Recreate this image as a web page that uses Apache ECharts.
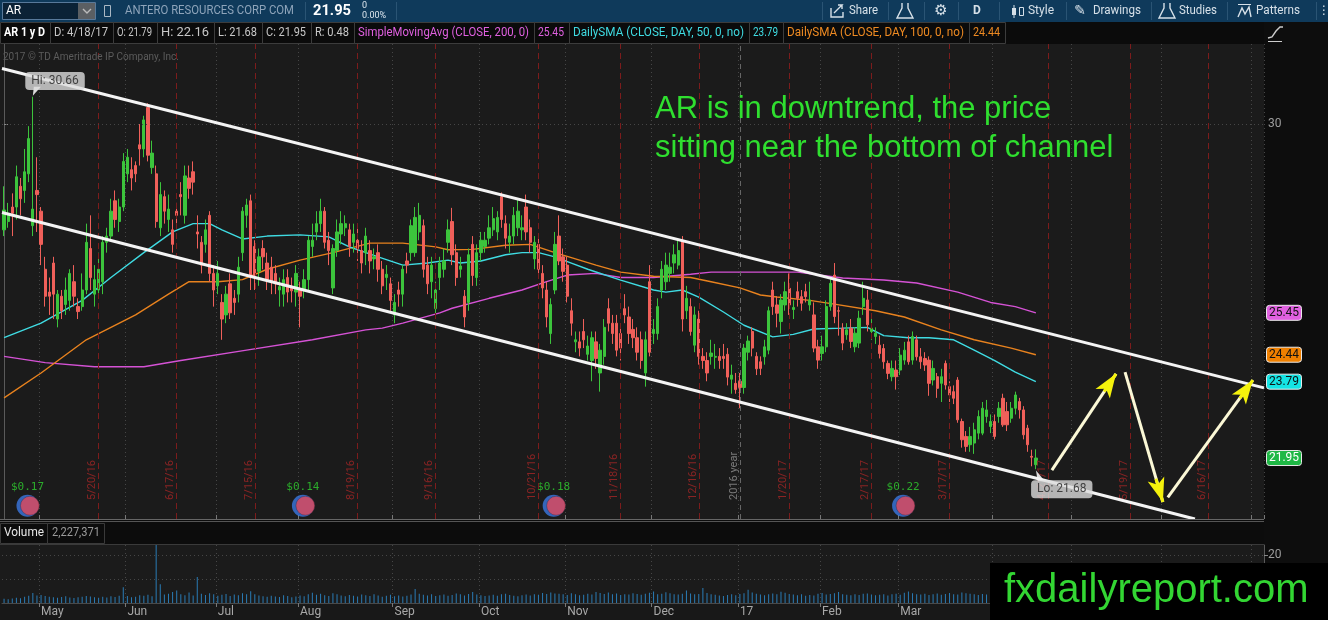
<!DOCTYPE html>
<html>
<head>
<meta charset="utf-8">
<script src="https://cdn.jsdelivr.net/npm/echarts@6/dist/echarts.min.js"></script>
<style>
  html, body { margin: 0; padding: 0; background: #1b1b1b; }
  #main { width: 1328px; height: 620px; }
</style>
</head>
<body>
<div id="main"></div>
<script>
// AR 1 year daily
var monthNames = ['Jan','Feb','Mar','Apr','May','Jun','Jul','Aug','Sep','Oct','Nov','Dec'];
var holidays = ['2016-05-30','2016-07-04','2016-09-05','2016-11-24','2016-12-26','2017-01-02',
                '2017-01-16','2017-02-20','2017-04-14','2017-05-29','2017-07-04'];
var slotCount = 307; // trading days incl. the empty right margin

// [open, close, low, high]
var candles = [
  [27.45,27.93,27.3,28.5],[27.65,27.85,27.5,28.1],[28.0,27.85,27.3,28.33],[28.0,28.73,27.7,29.0],
  [28.5,28.2,27.8,28.7],[28.4,28.85,28.1,29.4],[28.8,29.65,28.6,29.95],[27.55,27.95,27.3,30.66],
  [28.4,28.3,27.4,29.2],[27.9,27.1,26.6,28.0],[26.5,25.85,25.6,26.8],[25.95,25.85,25.4,26.3],
  [26.65,25.9,25.3,26.8],[25.3,25.9,25.1,26.0],[25.85,25.5,25.3,26.0],[25.65,26.0,25.4,26.3],
  [25.75,26.4,25.5,26.5],[26.2,25.85,25.6,26.6],[25.6,25.48,25.3,25.8],[25.6,26.0,25.5,26.4],
  [26.0,27.15,25.9,27.6],[27.0,26.3,26.0,27.8],[25.9,26.25,25.6,26.6],[26.0,26.5,25.8,26.9],
  [26.2,27.15,25.9,27.3],[27.15,27.3,26.9,27.5],[27.3,27.9,27.2,28.2],[28.15,27.7,27.5,28.4],
  [27.65,28.0,27.4,28.2],[28.0,29.1,27.9,29.3],[28.8,29.2,28.6,29.4],[28.9,28.7,28.4,29.2],
  [29.0,28.8,28.6,29.1],[29.5,29.4,29.0,30.0],[29.4,30.1,29.2,30.2],[30.4,29.25,29.1,30.5],
  [28.95,29.3,28.8,29.6],[28.8,27.65,27.5,29.0],[27.5,28.3,27.3,28.6],[28.25,27.9,27.6,28.4],
  [27.7,27.95,27.4,28.3],[27.45,27.1,26.9,27.7],[27.9,27.8,27.5,28.1],[28.3,28.25,27.8,28.6],
  [27.8,28.75,27.6,29.0],[28.7,28.45,28.2,29.0],[28.85,28.6,28.3,29.1],[27.4,27.35,27.0,27.8],
  [27.15,26.6,26.4,27.3],[27.1,27.45,26.9,27.7],[27.8,26.4,26.2,27.9],[26.4,26.0,25.6,26.6],
  [26.1,26.4,25.9,26.7],[25.7,25.3,24.8,25.9],[25.4,25.9,25.2,26.1],[26.15,25.45,25.3,26.4],
  [25.8,25.7,25.4,26.0],[25.9,26.55,25.7,26.8],[26.9,27.9,26.7,28.0],[27.8,28.05,27.5,28.2],
  [28.15,26.3,26.0,28.3],[27.05,26.3,26.0,27.2],[26.45,26.8,26.1,27.0],[27.0,26.8,26.5,27.2],
  [26.65,26.25,26.0,26.9],[26.55,26.2,25.9,26.8],[26.4,26.15,25.9,26.6],[26.0,26.08,25.6,26.3],
  [25.9,26.25,25.6,26.5],[26.3,25.95,25.7,26.5],[26.05,25.98,25.7,26.3],[25.95,26.4,25.6,26.6],
  [26.0,25.85,25.1,26.2],[26.0,26.25,25.8,26.5],[26.25,27.2,26.0,27.3],[27.05,27.2,26.8,27.6],
  [27.4,27.6,27.2,27.9],[27.6,27.9,27.4,28.2],[27.9,27.15,27.0,28.0],[27.2,26.95,26.6,27.4],
  [26.05,27.0,25.9,27.1],[26.95,27.4,26.8,27.7],[27.35,27.6,27.1,27.9],[27.5,27.6,27.3,27.8],
  [27.45,27.05,26.8,27.6],[27.15,27.35,26.9,27.6],[27.2,27.0,26.7,27.5],[26.95,26.65,26.4,27.2],
  [26.9,27.3,26.6,27.5],[26.95,26.7,26.4,27.2],[26.75,26.8,26.5,27.0],[26.9,26.5,26.2,27.1],
  [26.5,26.1,25.9,26.7],[26.3,26.38,26.0,26.6],[26.15,25.75,25.5,26.3],[25.4,25.7,25.2,25.9],
  [26.0,25.9,25.6,26.2],[25.9,26.5,25.6,26.6],[26.7,26.6,26.4,26.9],[26.9,27.55,26.7,27.7],
  [26.9,27.75,26.8,28.0],[27.4,27.8,27.2,28.1],[27.55,26.5,26.3,27.7],[26.6,26.15,25.9,26.8],
  [26.2,26.6,25.8,26.8],[25.55,26.0,25.4,26.2],[26.3,26.65,26.0,26.8],[26.5,26.7,26.3,27.0],
  [27.15,27.45,26.9,27.7],[27.65,26.85,26.6,27.98],[26.9,26.3,26.1,27.1],[26.5,26.58,26.3,26.8],
  [25.85,25.35,25.1,26.0],[25.7,26.85,25.5,27.0],[27.1,26.35,26.1,27.3],[26.3,26.9,26.1,27.1],
  [26.9,27.2,26.7,27.4],[27.05,27.2,26.9,27.4],[27.25,27.5,27.1,27.8],[27.45,27.72,27.3,28.0],
  [27.4,27.75,27.2,27.9],[28.25,27.7,27.5,28.35],[27.6,27.25,27.0,27.8],[27.15,27.3,26.9,27.6],
  [27.3,27.8,27.1,28.0],[27.5,27.9,27.3,28.2],[27.45,27.5,27.2,27.8],[28.0,27.4,27.2,28.3],
  [27.5,27.15,26.9,27.7],[26.75,27.15,26.5,27.3],[27.1,26.5,26.3,27.3],[26.4,26.05,25.8,26.6],
  [26.0,25.35,25.1,26.2],[24.95,25.65,24.7,25.8],[26.0,27.1,25.9,27.4],[27.3,26.7,26.6,27.8],
  [26.8,26.45,26.2,27.0],[26.6,25.85,25.7,26.8],[25.5,25.2,24.9,25.8],[24.75,24.8,24.5,25.0],
  [24.75,24.6,24.4,25.0],[25.0,24.8,24.6,25.3],[24.45,24.65,24.3,24.9],[24.3,24.85,23.8,25.0],
  [24.75,24.35,24.1,25.0],[24.0,24.55,23.55,24.7],[24.4,25.1,24.2,25.3],[25.55,25.2,25.0,25.8],
  [25.2,24.95,24.7,25.4],[25.2,24.55,24.4,25.4],[24.95,24.6,24.3,25.1],[25.55,25.4,25.2,25.9],
  [25.35,24.95,24.7,25.6],[25.05,24.85,24.6,25.3],[24.85,24.5,24.3,25.1],[24.8,24.3,24.1,25.0],
  [24.0,24.8,23.67,25.0],[26.2,24.5,24.4,26.6],[24.95,25.05,24.7,25.3],[24.95,25.6,24.8,25.8],
  [26.0,26.5,25.8,26.7],[26.2,26.6,26.0,26.9],[26.4,26.55,26.2,26.9],[26.65,26.85,26.4,27.1],
  [26.6,26.95,26.5,27.2],[27.2,25.3,25.0,27.3],[25.5,25.8,25.3,26.1],[25.6,25.0,24.9,25.8],
  [24.67,25.4,24.5,25.6],[25.3,24.4,24.2,25.5],[24.4,24.3,24.1,24.6],[24.3,24.0,23.8,24.5],
  [24.4,24.48,24.2,24.8],[24.38,24.4,24.1,24.7],[24.4,24.3,24.1,24.6],[24.4,24.35,24.1,24.7],
  [24.45,23.9,23.7,24.6],[23.85,23.95,23.5,24.2],[23.75,23.6,23.5,24.0],[23.8,23.65,23.15,24.0],
  [23.65,24.6,23.5,24.7],[24.5,24.77,24.3,24.9],[25.0,24.6,24.4,25.1],[24.4,24.1,23.95,24.5],
  [24.27,24.11,23.95,24.4],[24.39,24.63,24.2,24.8],[24.55,25.5,24.45,25.6],[26.0,25.6,25.4,26.2],
  [25.64,25.44,25.1,25.85],[25.24,25.76,24.95,25.9],[25.64,25.96,25.5,26.2],[26.04,25.64,25.4,26.4],
  [25.53,25.58,25.3,25.75],[25.96,25.8,25.6,26.2],[25.84,25.68,25.5,26.0],[25.96,25.84,25.7,26.15],
  [25.64,25.76,25.5,26.2],[25.4,24.6,24.5,25.7],[24.63,24.31,24.1,24.8],[24.47,24.63,24.3,24.9],
  [24.63,25.6,24.5,25.75],[25.6,26.16,25.5,26.3],[26.36,25.36,25.2,26.65],[25.5,25.49,24.9,25.6],
  [25.08,24.72,24.55,25.2],[24.92,25.04,24.8,25.2],[25.08,24.76,24.6,25.3],[24.63,24.96,24.5,25.1],
  [24.72,25.32,24.6,25.5],[25.6,25.8,25.4,26.2],[25.76,25.16,25.0,26.0],[25.0,25.08,24.8,25.3],
  [24.88,24.96,24.7,25.1],[24.67,24.47,24.35,24.9],[24.59,24.27,24.1,24.7],[24.23,23.99,23.85,24.3],
  [23.91,24.11,23.8,24.3],[24.07,23.91,23.6,24.3],[24.07,24.43,23.95,24.6],[24.31,24.55,24.2,24.75],
  [24.75,24.27,24.2,24.9],[24.31,24.88,24.2,25.0],[24.8,24.39,24.3,24.9],[24.39,24.27,24.1,24.6],
  [24.35,24.19,24.05,24.5],[24.31,23.75,23.45,24.4],[23.83,24.11,23.7,24.3],[23.91,23.63,23.4,24.0],
  [23.75,23.91,23.3,24.1],[24.23,23.71,23.6,24.3],[23.67,23.47,23.3,23.8],[23.55,23.39,23.25,23.7],
  [23.83,22.87,22.8,23.9],[22.83,22.39,22.2,22.9],[22.47,22.23,22.1,22.6],[22.27,22.47,22.1,22.7],
  [22.31,22.63,22.05,22.8],[22.55,22.95,22.4,23.1],[22.55,23.15,22.5,23.3],[22.95,23.11,22.8,23.35],
  [22.71,22.83,22.55,23.0],[22.83,22.47,22.4,23.0],[22.95,23.15,22.8,23.3],[23.39,22.75,22.7,23.5],
  [23.07,22.75,22.6,23.3],[22.91,23.15,22.8,23.3],[23.15,23.47,23.0,23.55],[23.31,23.11,22.9,23.4],
  [23.11,22.51,22.4,23.2],[22.67,22.27,22.1,22.75],[21.99,21.97,21.75,22.15],[21.79,21.95,21.68,22.16]
];

// volume, millions of shares
var volume = [
  1.8,1.6,1.9,2.2,2.0,2.6,3.0,4.2,3.1,
  3.3,2.9,2.6,2.4,2.2,2.5,2.8,2.3,2.1,2.4,2.6,2.9,
  2.7,2.4,2.2,2.6,2.3,2.8,2.5,3.0,6.6,2.9,2.4,2.6,3.2,3.0,3.4,2.8,
  24.2,7.8,3.5,3.9,4.6,5.2,3.6,3.2,4.4,3.1,10.8,3.9,3.3,4.1,
  3.6,3.0,3.4,3.8,2.9,3.5,3.2,4.1,3.7,4.9,3.6,3.1,2.8,2.6,3.0,2.7,2.5,3.2,2.9,2.4,
  2.7,3.1,2.8,3.6,4.3,3.4,3.9,3.2,2.9,4.1,3.6,3.1,2.8,3.3,3.0,2.7,3.5,3.2,2.9,3.6,
  3.1,2.6,3.0,3.4,2.8,3.1,2.7,3.0,3.5,5.8,3.9,
  3.4,3.1,3.6,2.9,3.2,3.5,3.0,3.3,4.0,3.6,3.1,3.8,4.6,3.5,3.2,2.9,3.1,3.4,3.0,3.7,
  3.9,3.3,3.0,2.8,3.2,3.5,3.1,3.6,3.4,4.2,
  3.8,4.4,4.0,3.9,3.6,3.3,4.1,3.7,3.2,3.4,3.9,3.5,4.6,4.2,3.8,4.4,3.6,4.0,3.3,3.7,
  3.5,4.1,3.8,3.4,3.9,4.3,4.8,3.6,3.9,4.5,
  4.1,3.7,3.5,3.9,5.2,4.0,3.6,3.8,6.3,4.2,3.7,3.4,3.1,2.9,3.3,3.6,3.2,3.8,4.1,5.5,
  4.4,3.9,3.5,3.2,3.7,4.0,3.6,4.7,4.3,3.8,
  3.5,3.2,3.6,3.0,3.3,3.1,3.9,4.2,3.5,3.8,4.1,4.6,3.7,3.4,3.2,3.6,3.3,3.9,4.0,3.5,
  3.2,3.4,3.7,3.1,3.6,3.9,3.4,4.3,4.8,4.1,
  3.7,3.5,3.9,3.3,3.6,4.0,3.4,3.8,4.2,3.7,3.5,4.4,4.1,3.9,3.6,3.3,3.8,3.5,3.2,3.6,
  3.4,3.9,3.7,3.3,3.5,3.8,4.0,3.6,4.5,2.2
];

// moving averages sampled along the drawn curves: [day index, value]
var sma50 = [[0,24.85],[9,25.2],[19,25.75],[26,26.3],[34,26.9],[41,27.4],[46,27.6],[50,27.6],[53,27.45],
  [58,27.23],[64,27.3],[72,27.33],[79,27.28],[84,27.04],[91,26.8],[97,26.6],[103,26.65],[108,26.72],
  [111,26.65],[116,26.7],[122,26.85],[126,26.9],[130,26.9],[134,26.8],[138,26.65],[142,26.5],[150,26.24],
  [158,26.0],[161,25.95],[165,26.0],[169,25.83],[175,25.47],[180,25.15],[187,24.87],[192,24.93],[197,25.06],
  [204,25.08],[210,25.1],[214,24.9],[220,24.85],[225,24.85],[231,24.8],[236,24.55],[241,24.3],[246,24.02],[251,23.79]];
var sma100 = [[0,23.4],[9,24.0],[20,24.8],[32,25.4],[40,25.9],[45,26.2],[52,26.2],[58,26.25],[64,26.5],
  [72,26.72],[80,26.9],[89,27.13],[97,27.13],[105,27.04],[108,26.97],[114,26.98],[122,27.08],[128,27.1],
  [134,26.9],[138,26.78],[144,26.6],[150,26.43],[158,26.33],[167,26.3],[172,26.2],[179,26.05],[184,25.88],
  [188,25.83],[196,25.75],[202,25.66],[212,25.5],[219,25.35],[228,25.04],[236,24.8],[245,24.6],[251,24.44]];
var sma200 = [[0,24.4],[10,24.25],[22,24.15],[34,24.15],[43,24.3],[59,24.55],[75,24.8],[88,25.04],[92,25.08],
  [97,25.2],[106,25.45],[109,25.56],[118,25.8],[126,26.0],[132,26.2],[137,26.36],[144,26.4],[150,26.3],
  [158,26.3],[167,26.38],[172,26.43],[184,26.43],[193,26.43],[204,26.29],[214,26.24],[222,26.17],
  [232,25.95],[240,25.7],[246,25.6],[251,25.45]];

var lastValues = [25.45, 24.44, 23.79, 21.95];
var lastColors = ['#e060e0', '#f08000', '#14e4e4', '#1fb845'];

var expDates = ['2016-05-20','2016-06-17','2016-07-15','2016-08-19','2016-09-16','2016-10-21','2016-11-18',
                '2016-12-16','2017-01-20','2017-02-17','2017-03-17','2017-04-21','2017-05-19','2017-06-16'];
var divIndex = [6, 73, 134, 219];
var divAmounts = ['$0.17', '$0.14', '$0.18', '$0.22'];

var FONT = 'Roboto, "DejaVu Sans", sans-serif';

function buildDates() {
  var out = [];
  var d = new Date(Date.UTC(2016, 3, 19));
  while (out.length < slotCount) {
    var wd = d.getUTCDay();
    var s = d.toISOString().slice(0, 10);
    if (wd !== 0 && wd !== 6 && holidays.indexOf(s) < 0) out.push(s);
    d.setUTCDate(d.getUTCDate() + 1);
  }
  return out;
}
var dates = buildDates();

function isMonthStart(i) {
  return i > 0 && dates[i].slice(5, 7) !== dates[i - 1].slice(5, 7);
}
function monthLabel(v) {
  var m = +v.slice(5, 7);
  return m === 1 ? v.slice(2, 4) : monthNames[m - 1];
}
function expLabel(v) {
  return (+v.slice(5, 7)) + '/' + (+v.slice(8, 10)) + '/' + v.slice(2, 4);
}

var chart = echarts.init(document.getElementById('main'));

var dotted = { color: '#464646', type: [1, 3], width: 1 };
var divLevel = 20.8; // price level the dividend badges sit on

var option = {
  backgroundColor: '#1b1b1b',
  animation: false,
  textStyle: { fontFamily: FONT },
  grid: [
    { left: 2, right: 64, top: 44, height: 475 },
    { left: 2, right: 64, top: 545, height: 58 }
  ],
  xAxis: [
    {
      type: 'category', gridIndex: 0, data: dates, boundaryGap: true,
      axisLine: { show: false },
      axisTick: { show: true, inside: true, length: 4, interval: isMonthStart, lineStyle: { color: '#777' } },
      axisLabel: { show: false },
      splitLine: { show: true, interval: isMonthStart, lineStyle: dotted }
    },
    {
      type: 'category', gridIndex: 1, data: dates, boundaryGap: true,
      axisLine: { show: true, lineStyle: { color: '#4a4a4a' } },
      axisTick: { show: true, length: 4, interval: isMonthStart, lineStyle: { color: '#777' } },
      axisLabel: { interval: isMonthStart, formatter: monthLabel, align: 'left', color: '#a8a8a8',
                   fontSize: 12, margin: 3, fontFamily: FONT },
      splitLine: { show: true, interval: isMonthStart, lineStyle: dotted }
    },
    { type: 'value', gridIndex: 0, min: -0.5, max: slotCount - 0.5, show: false }
  ],
  yAxis: [
    {
      type: 'value', gridIndex: 0, position: 'right', min: 20.48, max: 31.93,
      axisLine: { show: true, lineStyle: { color: '#5a5a5a' } },
      axisTick: { show: true, customValues: [30], length: 4, lineStyle: { color: '#888' } },
      axisLabel: { customValues: [30], formatter: function (v) { return v === 30 ? '30' : ''; },
                   color: '#9c9c9c', fontSize: 12, margin: 4 },
      splitLine: { show: false }
    },
    {
      type: 'value', gridIndex: 1, position: 'right', min: 0, max: 24.2,
      axisLine: { show: true, lineStyle: { color: '#5a5a5a' } },
      axisTick: { show: true, customValues: [20], length: 4, lineStyle: { color: '#888' } },
      axisLabel: { customValues: [20], formatter: function (v) { return v === 20 ? '20' : ''; },
                   color: '#9c9c9c', fontSize: 12, margin: 4 },
      splitLine: { show: false }
    }
  ],
  series: [
    {
      type: 'candlestick', xAxisIndex: 0, yAxisIndex: 0, data: candles, barWidth: 2.8,
      itemStyle: { color: '#3cc43c', color0: '#f0605a', borderColor: '#3cc43c', borderColor0: '#f0605a', borderWidth: 1 },
      markLine: {
        silent: true, symbol: ['none', 'none'], label: { show: false },
        data: expDates.map(function (d) {
          return { xAxis: d, lineStyle: { color: '#7c1c1c', type: [6, 4], width: 1 } };
        }).concat([
          { xAxis: '2017-01-03', lineStyle: { color: '#666', type: [5, 4], width: 1 } },
          { yAxis: 30, lineStyle: dotted }
        ])
      },
      z: 3
    },
    {
      type: 'line', name: 'SMA200', xAxisIndex: 2, yAxisIndex: 0, data: sma200, showSymbol: false,
      lineStyle: { color: '#d552d5', width: 1.4 }, z: 2,
      markLine: {
        silent: true, symbol: ['none', 'none'], label: { show: false },
        data: [
          [{ coord: [-0.5, 31.34] }, { coord: [306.5, 23.64] }],
          [{ coord: [-0.5, 27.87] }, { coord: [289.7, 20.48] }],
          [{ coord: [254.9, 21.66], lineStyle: { color: '#fbf8d6', width: 3 } }, { coord: [270.5, 23.98] }],
          [{ coord: [272.7, 24.02], lineStyle: { color: '#fbf8d6', width: 3 } }, { coord: [281.9, 20.89] }],
          [{ coord: [283.1, 21.0], lineStyle: { color: '#fbf8d6', width: 3 } }, { coord: [303.8, 23.83] }],
          [{ coord: [267.6, 23.55], lineStyle: { color: '#f4f20c', width: 3 } },
           { coord: [270.5, 23.98], symbol: 'arrow', symbolSize: [13, 24] }],
          [{ coord: [280.2, 21.45], lineStyle: { color: '#f4f20c', width: 3 } },
           { coord: [281.9, 20.89], symbol: 'arrow', symbolSize: [13, 24] }],
          [{ coord: [300.6, 23.39], lineStyle: { color: '#f4f20c', width: 3 } },
           { coord: [303.8, 23.83], symbol: 'arrow', symbolSize: [13, 24] }]
        ],
        lineStyle: { color: '#f4f4f4', width: 3, type: 'solid' }
      }
    },
    {
      type: 'line', name: 'SMA100', xAxisIndex: 2, yAxisIndex: 0, data: sma100, showSymbol: false,
      lineStyle: { color: '#e8821e', width: 1.4 }, z: 2
    },
    {
      type: 'line', name: 'SMA50', xAxisIndex: 2, yAxisIndex: 0, data: sma50, showSymbol: false,
      lineStyle: { color: '#3fdbe2', width: 1.4 }, z: 2
    },
    {
      // dividend badge: blue back disc
      type: 'scatter', xAxisIndex: 2, yAxisIndex: 0,
      data: divIndex.map(function (i) { return [i - 0.3, divLevel]; }),
      symbol: 'circle', symbolSize: 22, itemStyle: { color: '#3b78e2' },
      label: {
        show: true, position: 'top', distance: 2, color: '#2fcf2f', fontSize: 11,
        fontFamily: '"DejaVu Sans Mono", monospace',
        formatter: function (p) { return divAmounts[p.dataIndex]; }
      },
      z: 4
    },
    {
      // dividend badge: red front disc
      type: 'scatter', xAxisIndex: 2, yAxisIndex: 0,
      data: divIndex.map(function (i) { return [i + 0.3, divLevel]; }),
      symbol: 'circle', symbolSize: 19,
      itemStyle: { color: '#e4485a', borderColor: '#2a2a4a', borderWidth: 0.5 },
      z: 5
    },
    {
      type: 'scatter', xAxisIndex: 2, yAxisIndex: 0,
      data: [[12.4, 31.04, 'Hi: 30.66'], [257.3, 21.2, 'Lo: 21.68']],
      symbolSize: 2, itemStyle: { color: 'rgba(0,0,0,0)' },
      label: {
        show: true, position: 'inside', color: '#222', fontSize: 12,
        backgroundColor: '#dcdcdc', borderRadius: 4, padding: [3, 6],
        formatter: function (p) { return p.value[2]; }
      },
      z: 8
    },
    {
      type: 'bar', xAxisIndex: 1, yAxisIndex: 1, data: volume, barWidth: 1,
      itemStyle: { color: '#2a7cb6' },
      markLine: {
        silent: true, symbol: ['none', 'none'], label: { show: false },
        data: [{ yAxis: 10 }, { yAxis: 20 }], lineStyle: dotted
      }
    }
  ]
};
chart.setOption(option);

var measureCtx = document.createElement('canvas').getContext('2d');

function rect(x, y, w, h, fill, stroke, z, r) {
  return { type: 'rect', silent: true, z: z, shape: { x: x, y: y, width: w, height: h, r: r || 0 },
           style: { fill: fill, stroke: stroke || null, lineWidth: 1 } };
}
function txt(x, y, s, color, font, z, align) {
  return { type: 'text', silent: true, z: z, x: x, y: y,
           style: { text: s, fill: color, font: font, textAlign: align || 'left',
                    textVerticalAlign: 'middle', verticalAlign: 'middle' } };
}
// left-aligned text squeezed to the width it takes in the screenshot
function fitTxt(x, y, s, color, font, z, width) {
  measureCtx.font = font;
  var w = measureCtx.measureText(s).width;
  var t = txt(x, y, s, color, font, z);
  t.scaleX = width / w;
  return t;
}
function line(x1, y1, x2, y2, color, z) {
  return { type: 'line', silent: true, z: z, shape: { x1: x1, y1: y1, x2: x2, y2: y2 },
           style: { stroke: color, lineWidth: 1 } };
}
function poly(points, color, z) {
  return { type: 'polyline', silent: true, z: z, shape: { points: points },
           style: { stroke: color, lineWidth: 1.4, fill: null } };
}

function buildGraphics() {
  var g = [];
  var f12 = '12px ' + FONT;
  // background panels
  g.push(rect(1264, 22, 64, 598, '#0d0d0d', null, -1));
  g.push(rect(0, 603, 1264, 17, '#181818', null, -1));
  g.push(rect(0, 519, 1264, 26, '#0c0c0c', null, 5));
  g.push(line(0, 519.5, 1264, 519.5, '#666', 6));
  g.push(line(0, 521.5, 1264, 521.5, '#555', 6));
  g.push(line(0, 544.5, 1264, 544.5, '#3a3a3a', 6));
  g.push(rect(0.5, 523.5, 47, 20, null, '#3a3a3a', 6));
  g.push(fitTxt(4, 533, 'Volume', '#e8e8e8', f12, 7, 40));
  g.push(rect(47.5, 523.5, 57, 20, null, '#3a3a3a', 6));
  g.push(fitTxt(52, 533, '2,227,371', '#9a9a9a', f12, 7, 48));

  // toolbar
  g.push(rect(0, 0, 1328, 22, '#0f3a5b', null, 10));
  g.push(rect(2.5, 2.5, 93, 17, '#0b2236', '#58799a', 11));
  g.push(rect(78, 3, 17, 16, '#5b5f63', null, 12));
  g.push(poly([[83, 9], [87, 13], [91, 9]], '#bbb', 13));
  g.push(txt(6, 11, 'AR', '#ffffff', f12, 12));
  g.push(rect(104.5, 5.5, 6, 11, null, '#aab8c4', 11));
  g.push(fitTxt(125, 11, 'ANTERO RESOURCES CORP COM', '#8ea4ba', '13px ' + FONT, 11, 169));
  [305, 396, 822, 888, 924, 958, 999, 1066, 1151, 1227, 1316].forEach(function (x) {
    g.push(line(x + 0.5, 2, x + 0.5, 20, '#2a5474', 11));
  });
  g.push(fitTxt(313, 11, '21.95', '#ffffff', 'bold 15px ' + FONT, 11, 38));
  g.push(txt(362, 6, '0', '#dde6ee', '9px ' + FONT, 11));
  g.push(txt(362, 16, '0.00%', '#dde6ee', '9px ' + FONT, 11));
  var tb = '12px ' + FONT, tc = '#d6e0e8';
  g.push(poly([[831, 8], [831, 17], [843, 17], [843, 12]], tc, 11));
  g.push(poly([[834, 13], [842, 5], [838, 5], [842, 5], [842, 9]], tc, 11));
  g.push(fitTxt(849, 11, 'Share', tc, tb, 11, 29));
  g.push(poly([[902, 3], [902, 8], [897, 18], [913, 18], [908, 8], [908, 3]], tc, 11));
  g.push(txt(941, 11, '\u2699', tc, '15px "DejaVu Sans"', 11, 'center'));
  g.push(txt(977, 11, 'D', tc, 'bold 12px ' + FONT, 11, 'center'));
  g.push(rect(1012, 8, 4, 7, tc, null, 11));
  g.push(line(1014, 5, 1014, 18, tc, 11));
  g.push(rect(1019.5, 7.5, 4, 8, null, tc, 11));
  g.push(fitTxt(1028, 11, 'Style', tc, tb, 11, 26));
  g.push(txt(1080, 11, '\u270E', tc, '14px "DejaVu Sans"', 11, 'center'));
  g.push(fitTxt(1093, 11, 'Drawings', tc, tb, 11, 48));
  g.push(poly([[1164, 3], [1164, 8], [1159, 18], [1175, 18], [1170, 8], [1170, 3]], tc, 11));
  g.push(fitTxt(1179, 11, 'Studies', tc, tb, 11, 38));
  g.push(line(1238, 4.5, 1251, 4.5, tc, 11));
  g.push(poly([[1238, 17], [1242, 8], [1245, 14], [1249, 7], [1251, 17]], tc, 11));
  g.push(fitTxt(1256, 11, 'Patterns', tc, tb, 11, 44));
  g.push(txt(1324, 11, '\u22EE', tc, '12px "DejaVu Sans"', 11, 'center'));

  // info bar
  g.push(rect(0, 22, 1264, 22, '#0b0b0b', null, 10));
  var cells = [
    [0, 50, 'AR 1 y D', '#ffffff', true], [50, 113, 'D: 4/18/17', '#c8c8c8'], [113, 157, 'O: 21.79', '#c8c8c8'],
    [157, 214, 'H: 22.16', '#c8c8c8'], [214, 262, 'L: 21.68', '#c8c8c8'], [262, 311, 'C: 21.95', '#c8c8c8'],
    [311, 354, 'R: 0.48', '#c8c8c8'], [354, 534, 'SimpleMovingAvg (CLOSE, 200, 0)', '#e060e0'],
    [534, 569, '25.45', '#e060e0'], [569, 749, 'DailySMA (CLOSE, DAY, 50, 0, no)', '#3fdbe2'],
    [749, 783, '23.79', '#3fdbe2'], [783, 969, 'DailySMA (CLOSE, DAY, 100, 0, no)', '#ee8a22'],
    [969, 1005, '24.44', '#ee8a22']
  ];
  cells.forEach(function (c) {
    g.push(rect(c[0] + 0.5, 22.5, c[1] - c[0], 21, null, '#3c3c3c', 11));
    g.push(fitTxt(c[0] + 4, 33, c[2], c[3], (c[4] ? 'bold ' : '') + '12.5px ' + FONT, 12, c[1] - c[0] - 9));
  });
  g.push(line(1268, 41.5, 1282, 41.5, '#ccc', 11));
  g.push(poly([[1268, 38], [1272, 37], [1276, 31], [1280, 27], [1283, 27]], '#ccc', 11));
  g.push(txt(3, 57, '2017 \u00A9 TD Ameritrade IP Company, Inc.', '#5c5c5c', '10px ' + FONT, 5));

  // expiration labels and year marker
  expDates.forEach(function (d) {
    var x = chart.convertToPixel({ xAxisIndex: 0 }, d);
    g.push({ type: 'text', silent: true, z: 4, x: x - 6, y: 500, rotation: Math.PI / 2,
             style: { text: expLabel(d), fill: '#8a2424', font: '11px ' + FONT,
                      textAlign: 'left', textVerticalAlign: 'middle', verticalAlign: 'middle' } });
  });
  var yx = chart.convertToPixel({ xAxisIndex: 0 }, '2017-01-03');
  g.push({ type: 'text', silent: true, z: 4, x: yx - 6, y: 500, rotation: Math.PI / 2,
           style: { text: '2016 year', fill: '#7a7a7a', font: '11px ' + FONT,
                    textAlign: 'left', textVerticalAlign: 'middle', verticalAlign: 'middle' } });

  // callout pointers for the Hi / Lo labels (under the label boxes)
  var hiPt = chart.convertToPixel({ xAxisIndex: 2, yAxisIndex: 0 }, [7, 30.66]);
  g.push({ type: 'polygon', silent: true, z: 4,
           shape: { points: [[hiPt[0], hiPt[1] - 1], [hiPt[0] + 1, hiPt[1] - 10], [hiPt[0] + 8, hiPt[1] - 10]] },
           style: { fill: '#dcdcdc' } });
  var loPt = chart.convertToPixel({ xAxisIndex: 2, yAxisIndex: 0 }, [251, 21.68]);
  g.push({ type: 'polygon', silent: true, z: 4,
           shape: { points: [[loPt[0], loPt[1] + 1], [loPt[0] + 2, loPt[1] + 12], [loPt[0] + 9, loPt[1] + 12]] },
           style: { fill: '#dcdcdc' } });

  // right-axis value tags
  lastValues.forEach(function (v, k) {
    var y = chart.convertToPixel({ yAxisIndex: 0 }, v);
    g.push(rect(1266.5, y - 7.5, 35, 15, lastColors[k], '#e8e8e8', 8, 3));
    g.push(txt(1284, y, v.toFixed(2), k === 3 ? '#ffffff' : '#111111', '12px ' + FONT, 9, 'center'));
  });

  // commentary
  var big = '31px "Liberation Sans", Arial, sans-serif';
  g.push(txt(655, 109, 'AR is in downtrend, the price', '#2fdf2f', big, 20));
  g.push(txt(655, 148, 'sitting near the bottom of channel', '#2fdf2f', big, 20));

  // watermark
  g.push(rect(990, 563, 338, 57, '#000000', null, 20));
  g.push(txt(1004, 591, 'fxdailyreport.com', '#33d633', '40px "Liberation Sans", Arial, sans-serif', 21));
  return g;
}

chart.setOption({ graphic: buildGraphics() });
</script>
</body>
</html>
